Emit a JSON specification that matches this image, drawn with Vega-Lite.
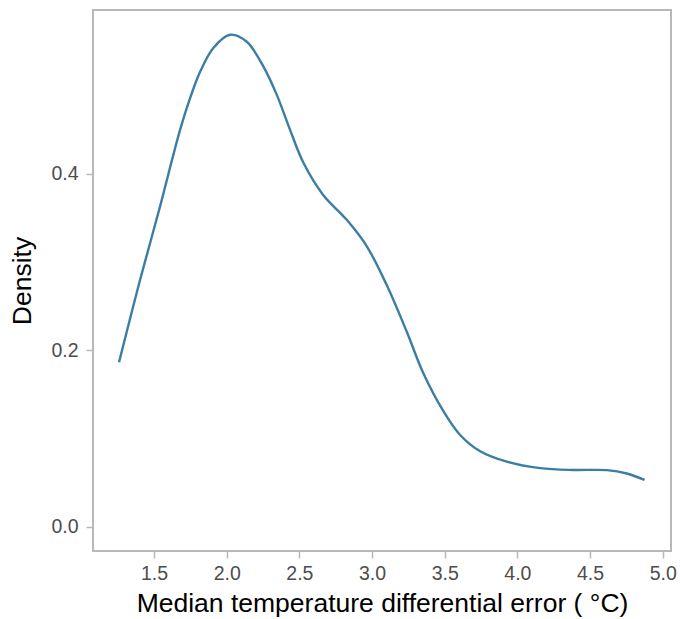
{
  "$schema": "https://vega.github.io/schema/vega-lite/v6.json",
  "width": 578,
  "height": 541,
  "autosize": {"type": "none"},
  "padding": {"left": 93, "top": 10, "right": 9, "bottom": 68},
  "background": "white",
  "config": {
    "view": {"stroke": "#b8b8b8", "strokeWidth": 2},
    "font": "Liberation Sans",
    "axis": {
      "grid": false,
      "domain": false,
      "tickColor": "#b8b8b8",
      "tickWidth": 1.5,
      "tickSize": 7,
      "labelFont": "Liberation Sans",
      "labelFontSize": 19.5,
      "labelColor": "#4d4d4d",
      "titleFont": "Liberation Sans",
      "titleFontSize": 26.5,
      "titleFontWeight": "normal",
      "titleColor": "#000000"
    }
  },
  "data": {
    "values": [
      {"x": 1.259, "y": 0.1865},
      {"x": 1.404, "y": 0.280},
      {"x": 1.541, "y": 0.363},
      {"x": 1.679, "y": 0.450},
      {"x": 1.748, "y": 0.486},
      {"x": 1.817, "y": 0.516},
      {"x": 1.908, "y": 0.543},
      {"x": 2.023, "y": 0.558},
      {"x": 2.138, "y": 0.550},
      {"x": 2.252, "y": 0.522},
      {"x": 2.344, "y": 0.490},
      {"x": 2.436, "y": 0.450},
      {"x": 2.527, "y": 0.413},
      {"x": 2.665, "y": 0.376},
      {"x": 2.826, "y": 0.348},
      {"x": 2.964, "y": 0.318},
      {"x": 3.101, "y": 0.274},
      {"x": 3.239, "y": 0.221},
      {"x": 3.353, "y": 0.174},
      {"x": 3.491, "y": 0.131},
      {"x": 3.606, "y": 0.104},
      {"x": 3.744, "y": 0.0855},
      {"x": 3.927, "y": 0.0737},
      {"x": 4.157, "y": 0.0664},
      {"x": 4.386, "y": 0.0643},
      {"x": 4.616, "y": 0.0641},
      {"x": 4.753, "y": 0.0603},
      {"x": 4.875, "y": 0.053}
    ]
  },
  "mark": {"type": "line", "interpolate": "catmull-rom", "color": "#3b7ea3", "strokeWidth": 2.4},
  "encoding": {
    "x": {
      "field": "x",
      "type": "quantitative",
      "scale": {"domain": [1.08, 5.057], "nice": false, "zero": false},
      "axis": {
        "title": "Median temperature differential error ( °C)",
        "values": [1.5, 2.0, 2.5, 3.0, 3.5, 4.0, 4.5, 5.0],
        "format": ".1f",
        "labelPadding": 6,
        "titlePadding": 8
      }
    },
    "y": {
      "field": "y",
      "type": "quantitative",
      "scale": {"domain": [-0.0276, 0.586], "nice": false, "zero": false},
      "axis": {
        "title": "Density",
        "values": [0.0, 0.2, 0.4],
        "format": ".1f",
        "labelPadding": 8,
        "titlePadding": 14
      }
    }
  }
}
